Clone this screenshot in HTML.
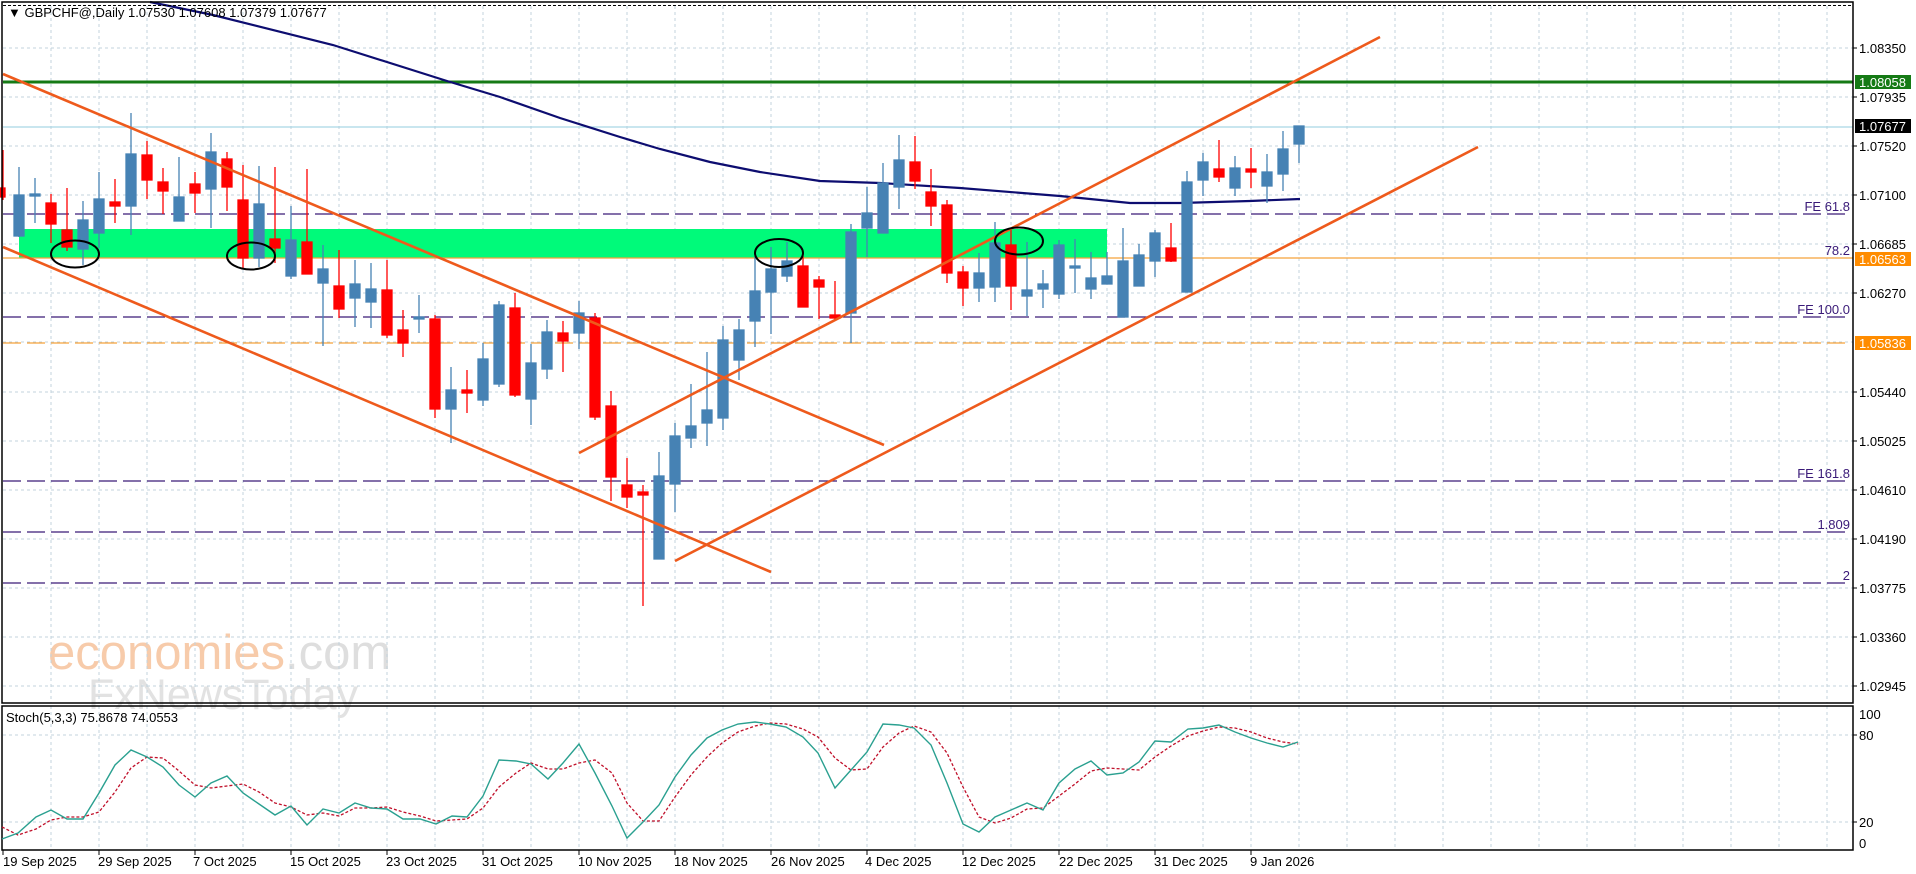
<!DOCTYPE html>
<html><head><meta charset="utf-8"><style>
html,body{margin:0;padding:0;background:#fff;}
svg{display:block;}
text{font-family:"Liberation Sans",sans-serif;}
</style></head><body>
<svg width="1916" height="874" viewBox="0 0 1916 874" xmlns="http://www.w3.org/2000/svg">
<rect width="1916" height="874" fill="#fff"/>
<!-- watermark -->
<text x="48" y="669" font-size="49" fill="#f7cbaa">economies<tspan fill="#dedede">.com</tspan></text>
<text x="88" y="709" font-size="43" fill="#e2e2e2">FxNewsToday</text>
<!-- grid -->
<g stroke="#c3d3dc" stroke-width="1" stroke-dasharray="3,3">
<path d="M51 6V703M99 6V703M147 6V703M195 6V703M243 6V703M291 6V703M339 6V703M387 6V703M435 6V703M483 6V703M531 6V703M579 6V703M627 6V703M675 6V703M723 6V703M771 6V703M819 6V703M867 6V703M915 6V703M963 6V703M1011 6V703M1059 6V703M1107 6V703M1155 6V703M1203 6V703M1251 6V703M1299 6V703M1347 6V703M1395 6V703M1443 6V703M1491 6V703M1539 6V703M1587 6V703M1635 6V703M1683 6V703M1731 6V703M1779 6V703M1827 6V703"/>
<path d="M51 706V850M99 706V850M147 706V850M195 706V850M243 706V850M291 706V850M339 706V850M387 706V850M435 706V850M483 706V850M531 706V850M579 706V850M627 706V850M675 706V850M723 706V850M771 706V850M819 706V850M867 706V850M915 706V850M963 706V850M1011 706V850M1059 706V850M1107 706V850M1155 706V850M1203 706V850M1251 706V850M1299 706V850M1347 706V850M1395 706V850M1443 706V850M1491 706V850M1539 706V850M1587 706V850M1635 706V850M1683 706V850M1731 706V850M1779 706V850M1827 706V850"/>
<path d="M3 48H1853M3 97H1853M3 146H1853M3 195H1853M3 244H1853M3 293H1853M3 342H1853M3 392H1853M3 441H1853M3 490H1853M3 539H1853M3 588H1853M3 637H1853M3 686H1853"/>
<path d="M3 735H1853M3 822H1853"/>
</g>
<!-- green zone -->
<rect x="19" y="229" width="1088" height="29" fill="#00fa7a"/>
<!-- horizontal levels -->
<line x1="3" y1="127" x2="1853" y2="127" stroke="#a9d6e5" stroke-width="1.2"/>
<line x1="3" y1="82" x2="1853" y2="82" stroke="#157a15" stroke-width="3"/>
<line x1="3" y1="258" x2="1853" y2="258" stroke="#f5a23a" stroke-width="1.2"/>
<g stroke="#3a1a78" stroke-width="1.3" stroke-dasharray="18,6">
<line x1="3" y1="214" x2="1851" y2="214"/>
<line x1="3" y1="317" x2="1851" y2="317"/>
<line x1="3" y1="481" x2="1851" y2="481"/>
<line x1="3" y1="532" x2="1851" y2="532"/>
<line x1="3" y1="583" x2="1851" y2="583"/>
</g>
<line x1="3" y1="343" x2="1851" y2="343" stroke="#f5a23a" stroke-width="1.3" stroke-dasharray="18,6"/>
<g fill="#3a1a78" font-size="13" text-anchor="end">
<text x="1850" y="211">FE 61.8</text>
<text x="1850" y="255">78.2</text>
<text x="1850" y="314">FE 100.0</text>
<text x="1850" y="478">FE 161.8</text>
<text x="1850" y="529">1.809</text>
<text x="1850" y="580">2</text>
</g>
<!-- MA -->
<polyline fill="none" stroke="#0d0d70" stroke-width="2.2" points="150,2 213,15 333,45 447,81 500,97 560,118 620,137 660,149 710,162 760,172 820,181 880,183 960,188 1060,196 1130,203 1180,203 1250,201 1300,199"/>
<!-- candles -->
<g stroke="#ff0000" fill="#ff0000" stroke-width="1.3">
<line x1="3" y1="150" x2="3" y2="200"/><rect x="0" y="188" width="5" height="9"/>
<line x1="51" y1="194" x2="51" y2="243"/><rect x="46" y="203" width="10" height="21"/>
<line x1="67" y1="188" x2="67" y2="251"/><rect x="62" y="230" width="10" height="17"/>
<line x1="115" y1="179" x2="115" y2="223"/><rect x="110" y="202" width="10" height="4"/>
<line x1="147" y1="141" x2="147" y2="199"/><rect x="142" y="155" width="10" height="25"/>
<line x1="163" y1="168" x2="163" y2="214"/><rect x="158" y="182" width="10" height="9"/>
<line x1="195" y1="172" x2="195" y2="213"/><rect x="190" y="184" width="10" height="9"/>
<line x1="227" y1="152" x2="227" y2="211"/><rect x="222" y="159" width="10" height="28"/>
<line x1="243" y1="165" x2="243" y2="268"/><rect x="238" y="200" width="10" height="58"/>
<line x1="275" y1="167" x2="275" y2="263"/><rect x="270" y="239" width="10" height="9"/>
<line x1="307" y1="169" x2="307" y2="274"/><rect x="302" y="242" width="10" height="32"/>
<line x1="339" y1="250" x2="339" y2="318"/><rect x="334" y="286" width="10" height="23"/>
<line x1="387" y1="260" x2="387" y2="338"/><rect x="382" y="290" width="10" height="45"/>
<line x1="403" y1="310" x2="403" y2="357"/><rect x="398" y="330" width="10" height="13"/>
<line x1="435" y1="315" x2="435" y2="418"/><rect x="430" y="319" width="10" height="90"/>
<line x1="467" y1="370" x2="467" y2="413"/><rect x="462" y="390" width="10" height="3"/>
<line x1="515" y1="293" x2="515" y2="397"/><rect x="510" y="308" width="10" height="87"/>
<line x1="563" y1="321" x2="563" y2="372"/><rect x="558" y="333" width="10" height="8"/>
<line x1="595" y1="313" x2="595" y2="420"/><rect x="590" y="318" width="10" height="99"/>
<line x1="611" y1="391" x2="611" y2="501"/><rect x="606" y="406" width="10" height="71"/>
<line x1="627" y1="458" x2="627" y2="508"/><rect x="622" y="485" width="10" height="12"/>
<line x1="643" y1="485" x2="643" y2="606"/><rect x="638" y="492" width="10" height="3"/>
<line x1="803" y1="255" x2="803" y2="307"/><rect x="798" y="266" width="10" height="41"/>
<line x1="819" y1="276" x2="819" y2="319"/><rect x="814" y="280" width="10" height="7"/>
<line x1="835" y1="281" x2="835" y2="319"/><rect x="830" y="315" width="10" height="3"/>
<line x1="915" y1="136" x2="915" y2="189"/><rect x="910" y="162" width="10" height="19"/>
<line x1="931" y1="169" x2="931" y2="226"/><rect x="926" y="192" width="10" height="14"/>
<line x1="947" y1="200" x2="947" y2="283"/><rect x="942" y="205" width="10" height="68"/>
<line x1="963" y1="266" x2="963" y2="306"/><rect x="958" y="272" width="10" height="16"/>
<line x1="1011" y1="230" x2="1011" y2="310"/><rect x="1006" y="245" width="10" height="41"/>
<line x1="1171" y1="223" x2="1171" y2="262"/><rect x="1166" y="248" width="10" height="13"/>
<line x1="1219" y1="140" x2="1219" y2="182"/><rect x="1214" y="169" width="10" height="8"/>
<line x1="1251" y1="148" x2="1251" y2="188"/><rect x="1246" y="169" width="10" height="3"/>
</g>
<g stroke="#4682b4" fill="#4682b4" stroke-width="1.3">
<line x1="19" y1="167" x2="19" y2="237"/><rect x="14" y="195" width="10" height="41"/>
<line x1="35" y1="178" x2="35" y2="223"/><rect x="30" y="194" width="10" height="2"/>
<line x1="83" y1="201" x2="83" y2="265"/><rect x="78" y="220" width="10" height="29"/>
<line x1="99" y1="172" x2="99" y2="248"/><rect x="94" y="199" width="10" height="34"/>
<line x1="131" y1="113" x2="131" y2="235"/><rect x="126" y="154" width="10" height="52"/>
<line x1="179" y1="157" x2="179" y2="221"/><rect x="174" y="197" width="10" height="24"/>
<line x1="211" y1="133" x2="211" y2="228"/><rect x="206" y="152" width="10" height="37"/>
<line x1="259" y1="166" x2="259" y2="267"/><rect x="254" y="204" width="10" height="54"/>
<line x1="291" y1="206" x2="291" y2="279"/><rect x="286" y="240" width="10" height="36"/>
<line x1="323" y1="245" x2="323" y2="346"/><rect x="318" y="269" width="10" height="14"/>
<line x1="355" y1="260" x2="355" y2="327"/><rect x="350" y="284" width="10" height="14"/>
<line x1="371" y1="263" x2="371" y2="328"/><rect x="366" y="289" width="10" height="13"/>
<line x1="419" y1="295" x2="419" y2="333"/><rect x="414" y="317" width="10" height="2"/>
<line x1="451" y1="367" x2="451" y2="443"/><rect x="446" y="390" width="10" height="19"/>
<line x1="483" y1="343" x2="483" y2="406"/><rect x="478" y="359" width="10" height="41"/>
<line x1="499" y1="301" x2="499" y2="387"/><rect x="494" y="305" width="10" height="79"/>
<line x1="531" y1="344" x2="531" y2="425"/><rect x="526" y="363" width="10" height="36"/>
<line x1="547" y1="320" x2="547" y2="379"/><rect x="542" y="332" width="10" height="37"/>
<line x1="579" y1="301" x2="579" y2="349"/><rect x="574" y="313" width="10" height="20"/>
<line x1="659" y1="452" x2="659" y2="559"/><rect x="654" y="476" width="10" height="83"/>
<line x1="675" y1="423" x2="675" y2="512"/><rect x="670" y="436" width="10" height="48"/>
<line x1="691" y1="384" x2="691" y2="448"/><rect x="686" y="426" width="10" height="12"/>
<line x1="707" y1="352" x2="707" y2="446"/><rect x="702" y="410" width="10" height="13"/>
<line x1="723" y1="326" x2="723" y2="430"/><rect x="718" y="340" width="10" height="78"/>
<line x1="739" y1="319" x2="739" y2="380"/><rect x="734" y="330" width="10" height="30"/>
<line x1="755" y1="253" x2="755" y2="347"/><rect x="750" y="291" width="10" height="30"/>
<line x1="771" y1="247" x2="771" y2="334"/><rect x="766" y="269" width="10" height="23"/>
<line x1="787" y1="242" x2="787" y2="282"/><rect x="782" y="261" width="10" height="15"/>
<line x1="851" y1="224" x2="851" y2="343"/><rect x="846" y="232" width="10" height="81"/>
<line x1="867" y1="187" x2="867" y2="257"/><rect x="862" y="213" width="10" height="15"/>
<line x1="883" y1="163" x2="883" y2="233"/><rect x="878" y="183" width="10" height="50"/>
<line x1="899" y1="135" x2="899" y2="209"/><rect x="894" y="160" width="10" height="27"/>
<line x1="979" y1="253" x2="979" y2="302"/><rect x="974" y="273" width="10" height="15"/>
<line x1="995" y1="222" x2="995" y2="302"/><rect x="990" y="243" width="10" height="44"/>
<line x1="1027" y1="242" x2="1027" y2="316"/><rect x="1022" y="290" width="10" height="6"/>
<line x1="1043" y1="270" x2="1043" y2="308"/><rect x="1038" y="284" width="10" height="5"/>
<line x1="1059" y1="240" x2="1059" y2="299"/><rect x="1054" y="245" width="10" height="49"/>
<line x1="1075" y1="239" x2="1075" y2="293"/><rect x="1070" y="266" width="10" height="2"/>
<line x1="1091" y1="252" x2="1091" y2="299"/><rect x="1086" y="278" width="10" height="11"/>
<line x1="1107" y1="252" x2="1107" y2="284"/><rect x="1102" y="276" width="10" height="8"/>
<line x1="1123" y1="228" x2="1123" y2="317"/><rect x="1118" y="261" width="10" height="56"/>
<line x1="1139" y1="244" x2="1139" y2="286"/><rect x="1134" y="255" width="10" height="31"/>
<line x1="1155" y1="230" x2="1155" y2="277"/><rect x="1150" y="233" width="10" height="28"/>
<line x1="1187" y1="171" x2="1187" y2="292"/><rect x="1182" y="182" width="10" height="110"/>
<line x1="1203" y1="153" x2="1203" y2="196"/><rect x="1198" y="162" width="10" height="18"/>
<line x1="1235" y1="156" x2="1235" y2="196"/><rect x="1230" y="168" width="10" height="20"/>
<line x1="1267" y1="154" x2="1267" y2="203"/><rect x="1262" y="172" width="10" height="14"/>
<line x1="1283" y1="131" x2="1283" y2="191"/><rect x="1278" y="149" width="10" height="25"/>
<line x1="1299" y1="126" x2="1299" y2="163"/><rect x="1294" y="126" width="10" height="18"/>
</g>
<!-- trend lines -->
<g stroke="#ee5a1c" stroke-width="2.6" fill="none">
<line x1="3" y1="74" x2="884" y2="445"/>
<line x1="3" y1="247" x2="771" y2="572"/>
<line x1="579" y1="453" x2="1380" y2="37"/>
<line x1="675" y1="561" x2="1478" y2="147"/>
</g>
<!-- ellipses -->
<g stroke="#000" stroke-width="2" fill="none">
<ellipse cx="75" cy="254" rx="24" ry="13.5"/>
<ellipse cx="251" cy="256" rx="24" ry="13.5"/>
<ellipse cx="779" cy="253" rx="24" ry="14"/>
<ellipse cx="1019" cy="241" rx="24" ry="13.5"/>
</g>
<!-- frames -->
<line x1="3" y1="5.5" x2="1853" y2="5.5" stroke="#000" stroke-width="1" stroke-dasharray="3,2"/>
<rect x="2" y="2" width="1851" height="701" fill="none" stroke="#000" stroke-width="1.5"/>
<rect x="2" y="706" width="1851" height="144" fill="none" stroke="#000" stroke-width="1.5"/>
<text x="8" y="17" font-size="13" fill="#000">▼ GBPCHF@,Daily  1.07530 1.07608 1.07379 1.07677</text>
<!-- stochastic -->
<text x="6" y="722" font-size="13" fill="#000">Stoch(5,3,3) 75.8678 74.0553</text>
<polyline fill="none" stroke="#c0102a" stroke-width="1.3" stroke-dasharray="3,2" points="2,827 18,835 36,829 51,820 67,817 83,817 99,812 115,792 131,768 147,757 163,758 179,771 195,785 211,788 227,786 243,784 259,792 275,803 291,807 307,815 323,813 339,816 355,808 371,808 387,807 403,812 420,816 436,821 452,820 467,819 483,808 499,787 516,773 531,763 548,769 563,769 579,763 595,760 612,773 627,803 643,821 659,821 675,797 691,775 707,757 722,743 738,732 755,726 770,723 786,724 803,729 818,737 835,758 851,770 867,769 883,747 899,733 914,726 931,732 947,753 963,787 979,817 995,823 1011,818 1027,809 1043,808 1059,796 1075,784 1091,771 1107,768 1123,769 1139,770 1155,757 1171,746 1188,736 1203,731 1219,727 1235,728 1251,732 1267,738 1283,742 1298,744"/>
<polyline fill="none" stroke="#2aa090" stroke-width="1.4" points="2,839 18,833 36,817 51,810 67,819 83,819 99,793 115,765 131,750 147,757 163,767 179,785 195,797 211,783 227,776 243,793 259,804 275,815 291,806 307,825 323,809 339,813 355,803 371,808 387,809 403,819 420,819 436,824 452,816 467,817 483,796 499,760 516,761 531,764 548,779 563,763 579,744 595,773 612,806 627,838 643,822 659,805 675,777 691,755 707,738 722,730 738,724 755,722 770,724 786,727 803,737 818,753 835,788 851,770 867,752 883,724 899,725 914,728 931,745 947,783 963,824 979,832 995,817 1011,810 1027,803 1043,810 1059,783 1075,769 1091,761 1107,775 1123,773 1139,762 1155,741 1171,742 1188,729 1203,728 1219,725 1235,732 1251,738 1267,743 1283,747 1298,742"/>
<!-- price axis -->
<g stroke="#000" stroke-width="1">
<path d="M1853 48h4M1853 97h4M1853 146h4M1853 195h4M1853 244h4M1853 293h4M1853 392h4M1853 441h4M1853 490h4M1853 539h4M1853 588h4M1853 637h4M1853 686h4M1853 735h4M1853 822h4"/>
</g>
<rect x="1855" y="75" width="56" height="14" fill="#157a15"/>
<rect x="1855" y="119" width="56" height="14" fill="#000"/>
<rect x="1855" y="252" width="56" height="14" fill="#ff8c00"/>
<rect x="1855" y="336" width="56" height="14" fill="#ff8c00"/>
<g font-size="13" fill="#000">
<text x="1859" y="53">1.08350</text>
<text x="1859" y="87" fill="#fff">1.08058</text>
<text x="1859" y="102">1.07935</text>
<text x="1859" y="131" fill="#fff">1.07677</text>
<text x="1859" y="151">1.07520</text>
<text x="1859" y="200">1.07100</text>
<text x="1859" y="249">1.06685</text>
<text x="1859" y="264" fill="#fff">1.06563</text>
<text x="1859" y="298">1.06270</text>
<text x="1859" y="348" fill="#fff">1.05836</text>
<text x="1859" y="397">1.05440</text>
<text x="1859" y="446">1.05025</text>
<text x="1859" y="495">1.04610</text>
<text x="1859" y="544">1.04190</text>
<text x="1859" y="593">1.03775</text>
<text x="1859" y="642">1.03360</text>
<text x="1859" y="691">1.02945</text>
<text x="1859" y="719">100</text>
<text x="1859" y="740">80</text>
<text x="1859" y="827">20</text>
<text x="1859" y="848">0</text>
</g>
<!-- time axis -->
<g stroke="#000" stroke-width="1">
<path d="M3 850v5M99 850v5M195 850v5M291 850v5M387 850v5M483 850v5M579 850v5M675 850v5M771 850v5M867 850v5M963 850v5M1059 850v5M1155 850v5M1251 850v5"/>
</g>
<g font-size="13" fill="#000">
<text x="3" y="866">19 Sep 2025</text>
<text x="98" y="866">29 Sep 2025</text>
<text x="193" y="866">7 Oct 2025</text>
<text x="290" y="866">15 Oct 2025</text>
<text x="386" y="866">23 Oct 2025</text>
<text x="482" y="866">31 Oct 2025</text>
<text x="578" y="866">10 Nov 2025</text>
<text x="674" y="866">18 Nov 2025</text>
<text x="771" y="866">26 Nov 2025</text>
<text x="865" y="866">4 Dec 2025</text>
<text x="962" y="866">12 Dec 2025</text>
<text x="1059" y="866">22 Dec 2025</text>
<text x="1154" y="866">31 Dec 2025</text>
<text x="1250" y="866">9 Jan 2026</text>
</g>
</svg>
</body></html>
